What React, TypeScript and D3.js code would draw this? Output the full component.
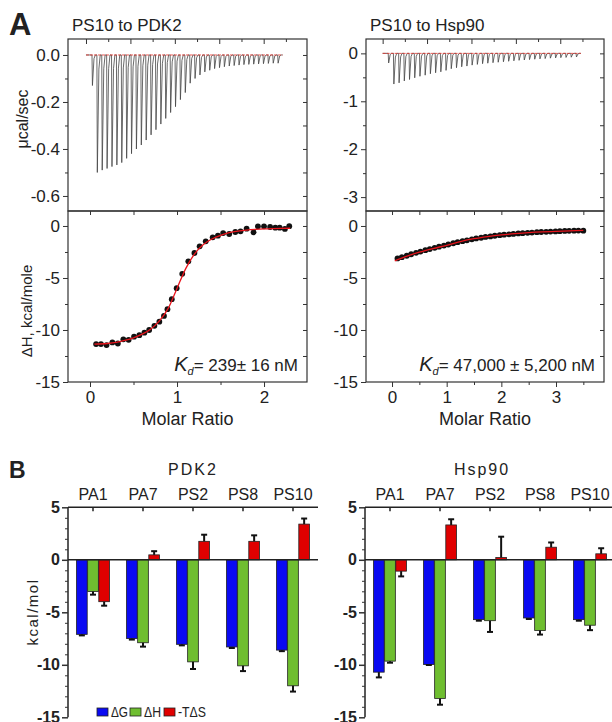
import { useEffect, useRef } from 'react';
import * as d3 from 'd3';

const FONT = '"Liberation Sans", Arial, sans-serif';

// ---------- panel A : raw ITC peaks (minimum of each injection, ucal/sec) ----------
const PDK2_PEAKS = [-0.13, -0.50, -0.49, -0.483, -0.475, -0.468, -0.458, -0.44, -0.42, -0.40, -0.383, -0.362, -0.34,
  -0.318, -0.294, -0.27, -0.245, -0.22, -0.19, -0.16, -0.12, -0.10, -0.085, -0.072, -0.065, -0.058, -0.054, -0.05,
  -0.047, -0.045, -0.043, -0.041, -0.04, -0.039, -0.038, -0.037, -0.036, -0.035, -0.035];
const HSP90_PEAKS = [-0.2, -0.64, -0.615, -0.575, -0.545, -0.51, -0.478, -0.455, -0.425, -0.405, -0.385, -0.355, -0.32,
  -0.3, -0.28, -0.265, -0.245, -0.23, -0.215, -0.205, -0.195, -0.185, -0.175, -0.165, -0.155, -0.145, -0.138, -0.13,
  -0.122, -0.115, -0.108, -0.1, -0.095, -0.09, -0.085, -0.08, -0.075];

// ---------- panel A : integrated heats ----------
const PDK2_RATIO = [0.07, 0.126, 0.19, 0.257, 0.32, 0.383, 0.444, 0.506, 0.567, 0.625, 0.68, 0.74, 0.797, 0.85, 0.89,
  0.94, 0.996, 1.06, 1.13, 1.2, 1.26, 1.33, 1.41, 1.47, 1.53, 1.6, 1.67, 1.73, 1.8, 1.88, 1.93, 2.0, 2.07, 2.13, 2.18,
  2.24, 2.29];
const PDK2_HEAT = [-11.35, -11.35, -11.45, -11.2, -11.3, -10.9, -10.95, -10.64, -10.5, -10.26, -10.0, -9.6, -9.2, -8.65,
  -8.0, -7.04, -5.98, -4.6, -3.4, -2.6, -1.96, -1.48, -1.09, -0.93, -0.68, -0.77, -0.58, -0.51, -0.26, -0.61, -0.03,
  -0.03, -0.1, -0.16, -0.16, -0.28, -0.02];
const PDK2_FIT_X = [0.05, 0.2, 0.3, 0.4, 0.5, 0.6, 0.7, 0.8, 0.9, 1.0, 1.1, 1.2, 1.3, 1.4, 1.5, 1.6, 1.7, 1.8, 1.9, 2.0, 2.1, 2.2, 2.3];
const PDK2_FIT_Y = [-11.35, -11.3, -11.2, -11.0, -10.75, -10.4, -9.9, -9.1, -7.9, -6.0, -4.1, -2.7, -1.8, -1.25, -0.9,
  -0.65, -0.5, -0.4, -0.33, -0.28, -0.25, -0.23, -0.22];

const HSP90_RATIO = [0.10, 0.18, 0.27, 0.35, 0.44, 0.52, 0.61, 0.69, 0.78, 0.86, 0.95, 1.03, 1.12, 1.20, 1.29, 1.37,
  1.46, 1.54, 1.63, 1.71, 1.80, 1.88, 1.97, 2.05, 2.14, 2.22, 2.31, 2.39, 2.48, 2.56, 2.65, 2.73, 2.82, 2.90, 2.99,
  3.07, 3.16, 3.24, 3.33, 3.41, 3.50];
const HSP90_HEAT = [-3.12, -3.0, -2.86, -2.72, -2.58, -2.46, -2.33, -2.22, -2.1, -1.99, -1.88, -1.78, -1.66, -1.56,
  -1.46, -1.38, -1.28, -1.2, -1.13, -1.05, -1.0, -0.94, -0.88, -0.84, -0.8, -0.76, -0.72, -0.69, -0.66, -0.63, -0.6,
  -0.58, -0.56, -0.54, -0.52, -0.5, -0.48, -0.47, -0.45, -0.44, -0.45];
const HSP90_FIT_X = [0.05, 0.25, 0.5, 0.75, 1.0, 1.25, 1.5, 1.75, 2.0, 2.25, 2.5, 2.75, 3.0, 3.25, 3.5];
const HSP90_FIT_Y = [-3.35, -2.95, -2.52, -2.17, -1.86, -1.5, -1.22, -1.02, -0.86, -0.74, -0.64, -0.57, -0.52, -0.47, -0.43];

// ---------- panel B : thermodynamic signature (kcal/mol) ----------
const LIGANDS = ['PA1', 'PA7', 'PS2', 'PS8', 'PS10'];
const TERMS = ['ΔG', 'ΔH', '-TΔS'];
const TERM_COLORS = ['#0a0af2', '#6fbe30', '#e00000'];

const PDK2_DG = [-7.1, -7.5, -8.05, -8.3, -8.6];
const PDK2_DG_ERR = [0.1, 0.1, 0.1, 0.1, 0.1];
const PDK2_DH = [-3.02, -7.9, -9.72, -10.1, -12.0];
const PDK2_DH_ERR = [0.3, 0.37, 0.68, 0.5, 0.55];
const PDK2_TDS = [-3.99, 0.47, 1.76, 1.76, 3.4];
const PDK2_TDS_ERR = [0.38, 0.35, 0.63, 0.57, 0.53];

const HSP_DG = [-10.7, -9.97, -5.7, -5.54, -5.7];
const HSP_DG_ERR = [0.5, 0.05, 0.1, 0.1, 0.1];
const HSP_DH = [-9.65, -13.2, -5.8, -6.74, -6.23];
const HSP_DH_ERR = [0.15, 0.6, 1.07, 0.38, 0.47];
const HSP_TDS = [-1.08, 3.32, 0.22, 1.2, 0.57];
const HSP_TDS_ERR = [0.5, 0.54, 1.98, 0.45, 0.53];

const fmt1 = (d: number) => (d === 0 ? '0.0' : d.toFixed(1));
const fmt0 = (d: number) => String(d);

function styleAxis(a: any, size = 16) {
  a.select('.domain').remove();
  a.selectAll('line').attr('stroke', '#333').attr('stroke-width', 1);
  a.selectAll('text').attr('font-family', FONT).attr('font-size', size).attr('fill', '#222');
}

function itcPanel(svg: any, cfg: any) {
  const {left, right, top, mid, bottom} = cfg;
  const t = d3.scaleLinear().domain(cfg.timeDomain).range([left, right]);
  const p = d3.scaleLinear().domain(cfg.powerDomain).range([mid, top]);
  const r = d3.scaleLinear().domain(cfg.ratioDomain).range([left, right]);
  const h = d3.scaleLinear().domain([-15, 1.44]).range([bottom, mid]);

  const g = svg.append('g');

  // thermogram
  const pts: [number, number][] = [[0, 0]];
  cfg.peaks.forEach((pk: number, i: number) => {
    const ti = cfg.injStart + i * cfg.injEvery;
    pts.push([ti, 0], [ti + 0.2, pk], [ti + 0.9, pk * 0.12], [ti + 1.5, 0]);
  });
  const tEnd = cfg.injStart + (cfg.peaks.length - 1) * cfg.injEvery + 2.2;
  pts.push([tEnd, 0]);
  g.append('path').datum(pts)
    .attr('fill', 'none').attr('stroke', '#444').attr('stroke-width', 0.8)
    .attr('d', d3.line().x(d => t(d[0])).y(d => p(d[1])));
  g.append('line')
    .attr('x1', t(0)).attr('x2', t(tEnd)).attr('y1', p(0)).attr('y2', p(0))
    .attr('stroke', '#e8342c').attr('stroke-width', 0.8).attr('stroke-dasharray', '3,1');

  // integrated heats
  const fit = cfg.fitX.map((x: number, i: number) => [x, cfg.fitY[i]]);
  g.append('g').selectAll('circle')
    .data(cfg.ratio.map((x: number, i: number) => [x, cfg.heat[i]]))
    .enter().append('circle')
    .attr('cx', (d: number[]) => r(d[0])).attr('cy', (d: number[]) => h(d[1]))
    .attr('r', 2.9).attr('fill', '#111');
  g.append('path').datum(fit)
    .attr('fill', 'none').attr('stroke', '#e8141c').attr('stroke-width', 1.3)
    .attr('d', d3.line().x((d: any) => r(d[0])).y((d: any) => h(d[1])).curve(d3.curveMonotoneX));

  // frames
  g.append('rect').attr('x', left).attr('y', top).attr('width', right - left).attr('height', mid - top)
    .attr('fill', 'none').attr('stroke', '#333').attr('stroke-width', 1.2);
  g.append('rect').attr('x', left).attr('y', mid).attr('width', right - left).attr('height', bottom - mid)
    .attr('fill', 'none').attr('stroke', '#333').attr('stroke-width', 1.2);

  // upper axes
  g.append('g').attr('transform', `translate(${left},0)`)
    .call(d3.axisLeft(p).tickValues(cfg.powerMajor).tickSize(5).tickPadding(3).tickFormat(cfg.powerFmt))
    .call((a: any) => styleAxis(a, 17));
  g.append('g').attr('transform', `translate(${left},0)`)
    .call(d3.axisLeft(p).tickValues(cfg.powerMinor).tickSize(3).tickFormat(() => ''))
    .call((a: any) => styleAxis(a));
  g.append('g').attr('transform', `translate(${right},0)`)
    .call(d3.axisRight(p).tickValues([...cfg.powerMajor, ...cfg.powerMinor]).tickSize(-4).tickFormat(() => ''))
    .call((a: any) => styleAxis(a));
  g.append('g').attr('transform', `translate(0,${top})`)
    .call(d3.axisTop(t).tickValues([0, 20, 40, 60, 80]).tickSize(-5).tickFormat(() => ''))
    .call((a: any) => styleAxis(a));
  g.append('g').attr('transform', `translate(0,${top})`)
    .call(d3.axisTop(t).tickValues([10, 30, 50, 70, 90]).tickSize(-3).tickFormat(() => ''))
    .call((a: any) => styleAxis(a));

  // lower axes
  g.append('g').attr('transform', `translate(${left},0)`)
    .call(d3.axisLeft(h).tickValues([0, -5, -10, -15]).tickSize(5).tickPadding(3).tickFormat(fmt0 as any))
    .call((a: any) => styleAxis(a, 17));
  g.append('g').attr('transform', `translate(${left},0)`)
    .call(d3.axisLeft(h).tickValues([-2.5, -7.5, -12.5]).tickSize(3).tickFormat(() => ''))
    .call((a: any) => styleAxis(a));
  g.append('g').attr('transform', `translate(${right},0)`)
    .call(d3.axisRight(h).tickValues([0, -2.5, -5, -7.5, -10, -12.5]).tickSize(-4).tickFormat(() => ''))
    .call((a: any) => styleAxis(a));
  g.append('g').attr('transform', `translate(0,${bottom})`)
    .call(d3.axisBottom(r).tickValues(cfg.ratioMajor).tickSize(5).tickPadding(4).tickFormat(fmt0 as any))
    .call((a: any) => styleAxis(a, 17));
  g.append('g').attr('transform', `translate(0,${bottom})`)
    .call(d3.axisBottom(r).tickValues(cfg.ratioMinor).tickSize(3).tickFormat(() => ''))
    .call((a: any) => styleAxis(a));
  g.append('g').attr('transform', `translate(0,${mid})`)
    .call(d3.axisTop(r).tickValues([...cfg.ratioMajor, ...cfg.ratioMinor]).tickSize(-4).tickFormat(() => ''))
    .call((a: any) => styleAxis(a));

  // texts
  g.append('text').attr('x', left + 4).attr('y', top - 8).attr('font-size', 17).text(cfg.title);
  g.append('text').attr('x', (left + right) / 2).attr('y', bottom + 43).attr('text-anchor', 'middle')
    .attr('font-size', 18).text('Molar Ratio');
  const kd = g.append('text').attr('x', right - 9).attr('y', bottom - 11).attr('text-anchor', 'end').attr('font-size', 17);
  kd.append('tspan').attr('font-style', 'italic').attr('font-size', 20).text('K');
  kd.append('tspan').attr('font-style', 'italic').attr('font-size', 11).attr('dy', 4).text('d');
  kd.append('tspan').attr('dy', -4).text(cfg.kd);
}

function barPanel(svg: any, cfg: any) {
  const y = d3.scaleLinear().domain([-15, 5]).range([717.3, 507.3]);
  const x0 = d3.scaleBand().domain(LIGANDS).range([cfg.left, cfg.left + 250]);
  const x1 = d3.scaleBand().domain(TERMS).range([0, 33]).paddingInner(0.04);
  const g = svg.append('g');
  const series = [cfg.dg, cfg.dh, cfg.tds];
  const errs = [cfg.dgErr, cfg.dhErr, cfg.tdsErr];

  TERMS.forEach((term, s) => {
    const rows = LIGANDS.map((c, i) => ({c, v: series[s][i], e: errs[s][i]}));
    const gx = (d: any) => (x0(d.c) as number) + (x0.bandwidth() - 33) / 2 + (x1(term) as number);
    const gs = g.append('g');
    gs.selectAll('rect').data(rows).enter().append('rect')
      .attr('x', gx).attr('width', x1.bandwidth())
      .attr('y', (d: any) => y(Math.max(0, d.v))).attr('height', (d: any) => Math.abs(y(d.v) - y(0)))
      .attr('fill', TERM_COLORS[s]).attr('stroke', '#222').attr('stroke-width', 0.8);
    const cx = (d: any) => gx(d) + x1.bandwidth() / 2;
    const ey = (d: any) => y(d.v + (d.v >= 0 ? d.e : -d.e));
    gs.selectAll('line.err').data(rows).enter().append('line').attr('class', 'err')
      .attr('x1', cx).attr('x2', cx).attr('y1', (d: any) => y(d.v)).attr('y2', ey)
      .attr('stroke', '#111').attr('stroke-width', 2);
    gs.selectAll('line.cap').data(rows).enter().append('line').attr('class', 'cap')
      .attr('x1', (d: any) => cx(d) - 3).attr('x2', (d: any) => cx(d) + 3).attr('y1', ey).attr('y2', ey)
      .attr('stroke', '#111').attr('stroke-width', 2);
  });

  // zero line and top category axis
  g.append('line').attr('x1', cfg.left).attr('x2', cfg.left + 250).attr('y1', y(0)).attr('y2', y(0))
    .attr('stroke', '#222').attr('stroke-width', 1.5);
  g.append('line').attr('x1', cfg.left).attr('x2', cfg.left + 250).attr('y1', y(5)).attr('y2', y(5))
    .attr('stroke', '#222').attr('stroke-width', 1.5);
  g.selectAll('line.cat').data(LIGANDS).enter().append('line').attr('class', 'cat')
    .attr('x1', (c: string) => (x0(c) as number) + 25).attr('x2', (c: string) => (x0(c) as number) + 25)
    .attr('y1', y(5)).attr('y2', y(5) + 4).attr('stroke', '#222').attr('stroke-width', 1.5);
  g.selectAll('text.cat').data(LIGANDS).enter().append('text').attr('class', 'cat')
    .attr('x', (c: string) => (x0(c) as number) + 25).attr('y', 500).attr('text-anchor', 'middle')
    .attr('font-size', 16).text((c: string) => c);
  g.append('text').attr('x', cfg.titleX).attr('y', 475).attr('text-anchor', 'middle')
    .attr('font-size', 16).attr('letter-spacing', 2).text(cfg.title);

  // y axis
  g.append('line').attr('x1', cfg.left).attr('x2', cfg.left).attr('y1', y(5)).attr('y2', y(-15))
    .attr('stroke', '#222').attr('stroke-width', 1.5);
  g.append('g').attr('transform', `translate(${cfg.left},0)`)
    .call(d3.axisLeft(y).tickValues([5, 0, -5, -10, -15]).tickSize(6).tickPadding(2).tickFormat(fmt0 as any))
    .call((a: any) => styleAxis(a, 16))
    .call((a: any) => a.selectAll('text').attr('font-weight', 'bold'))
    .call((a: any) => a.selectAll('line').attr('stroke-width', 1.5));
  g.append('g').attr('transform', `translate(${cfg.left},0)`)
    .call(d3.axisLeft(y).tickValues(d3.range(-15, 5, 1).filter(v => v % 5 !== 0)).tickSize(3).tickFormat(() => ''))
    .call((a: any) => styleAxis(a));
}

export default function App() {
  const svgRef = useRef<SVGSVGElement>(null);

  useEffect(() => {
    const svg = d3.select(svgRef.current);
    svg.selectAll('*').remove();

    svg.append('text').attr('x', 9).attr('y', 35).attr('font-size', 31).attr('font-weight', 'bold').text('A');
    svg.append('text').attr('x', 9).attr('y', 478).attr('font-size', 23).attr('font-weight', 'bold').text('B');

    itcPanel(svg, {
      left: 68, right: 307, top: 39, mid: 211, bottom: 382,
      timeDomain: [-8.1, 99.5], powerDomain: [-0.664, 0.068], ratioDomain: [-0.253, 2.494],
      powerMajor: [0, -0.2, -0.4, -0.6], powerMinor: [-0.1, -0.3, -0.5], powerFmt: fmt1,
      ratioMajor: [0, 1, 2], ratioMinor: [0.5, 1.5],
      peaks: PDK2_PEAKS, injStart: 2.7, injEvery: 2.2,
      ratio: PDK2_RATIO, heat: PDK2_HEAT, fitX: PDK2_FIT_X, fitY: PDK2_FIT_Y,
      title: 'PS10 to PDK2', kd: '= 239± 16 nM',
    });
    itcPanel(svg, {
      left: 366, right: 604, top: 39, mid: 211, bottom: 382,
      timeDomain: [-7.5, 99.7], powerDomain: [-3.29, 0.3], ratioDomain: [-0.476, 3.878],
      powerMajor: [0, -1, -2, -3], powerMinor: [-0.5, -1.5, -2.5], powerFmt: fmt0,
      ratioMajor: [0, 1, 2, 3], ratioMinor: [0.5, 1.5, 2.5, 3.5],
      peaks: HSP90_PEAKS, injStart: 2.5, injEvery: 2.35,
      ratio: HSP90_RATIO, heat: HSP90_HEAT, fitX: HSP90_FIT_X, fitY: HSP90_FIT_Y,
      title: 'PS10 to Hsp90', kd: '= 47,000 ± 5,200 nM',
    });

    svg.append('text').attr('transform', 'translate(28,119) rotate(-90)').attr('text-anchor', 'middle')
      .attr('font-size', 16).text('μcal/sec');
    svg.append('text').attr('transform', 'translate(32,311) rotate(-90)').attr('text-anchor', 'middle')
      .attr('font-size', 15).text('ΔH, kcal/mole');

    barPanel(svg, {
      left: 68, title: 'PDK2', titleX: 193,
      dg: PDK2_DG, dgErr: PDK2_DG_ERR, dh: PDK2_DH, dhErr: PDK2_DH_ERR, tds: PDK2_TDS, tdsErr: PDK2_TDS_ERR,
    });
    barPanel(svg, {
      left: 365, title: 'Hsp90', titleX: 482,
      dg: HSP_DG, dgErr: HSP_DG_ERR, dh: HSP_DH, dhErr: HSP_DH_ERR, tds: HSP_TDS, tdsErr: HSP_TDS_ERR,
    });
    svg.append('text').attr('transform', 'translate(38,612) rotate(-90)').attr('text-anchor', 'middle')
      .attr('font-size', 15).attr('letter-spacing', 1.5).text('kcal/mol');

    // legend
    const lg = svg.append('g');
    const legendX = [97, 130, 164];
    const legendW = [17, 17, 28];
    TERMS.forEach((term, i) => {
      lg.append('rect').attr('x', legendX[i]).attr('y', 708).attr('width', 11).attr('height', 8)
        .attr('fill', TERM_COLORS[i]).attr('stroke', '#222').attr('stroke-width', 0.8);
      lg.append('text').attr('x', legendX[i] + 14).attr('y', 717).attr('font-size', 15)
        .attr('textLength', legendW[i]).attr('lengthAdjust', 'spacingAndGlyphs').text(term);
    });
  }, []);

  return (
    <svg ref={svgRef} width={612} height={722}
      style={{position: 'absolute', left: 0, top: 0, background: '#fff', fontFamily: FONT, fill: '#222'}} />
  );
}
